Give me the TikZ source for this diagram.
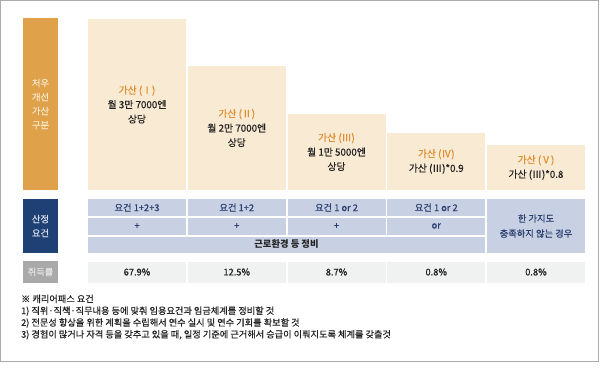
\documentclass[tikz,border=0pt]{standalone}
\usepackage{fontspec}
\setmainfont{Noto Sans CJK KR}[UprightFeatures={FakeBold=0.5}]
\definecolor{careerFrame}{HTML}{ABABAB}
\definecolor{careerOrange}{HTML}{DFA24A}
\definecolor{careerOrangeText}{HTML}{DE8E2E}
\definecolor{careerCream}{HTML}{F9EAD3}
\definecolor{careerLabelCream}{HTML}{F8E8CC}
\definecolor{careerNavy}{HTML}{1F4075}
\definecolor{careerNavyText}{HTML}{2B3F6E}
\definecolor{careerBlueCell}{HTML}{C8D0E4}
\definecolor{careerBlueLabel}{HTML}{D6DDEB}
\definecolor{careerGrey}{HTML}{A9A9A9}
\definecolor{careerGreyLabel}{HTML}{E2E2E2}
\definecolor{careerGreyCell}{HTML}{F0F1F1}
\definecolor{careerText}{HTML}{222222}
\usetikzlibrary{positioning}

\begin{document}
\begin{tikzpicture}[x=1pt, y=-1pt, font=\fontsize{9.8}{14.5}\selectfont, text=careerText]
		\useasboundingbox (0,0) rectangle (600,368);
		\draw[careerFrame, line width=1.2pt] (0.6,0.6) rectangle (598.6,361.6);
		
		% 구분 라벨
		\fill[careerOrange] (23,18) rectangle (58,190);
		\node[text=careerLabelCream, align=center, font=\fontsize{9.3}{14}\selectfont] (labelGasan) at (40.5,104) {처우\\개선\\가산\\구분};
		
		% 가산 막대
		\foreach \i/\yt/\num/\body in {1/19/Ⅰ/{월 3만 7000엔\\상당}, 2/66/Ⅱ/{월 2만 7000엔\\상당}, 3/114/Ⅲ/{월 1만 5000엔\\상당}, 4/133/Ⅳ/{가산 (Ⅲ)*0.9}, 5/145/Ⅴ/{가산 (Ⅲ)*0.8}}{
			\fill[careerCream] ({88+(\i-1)*99.75},\yt) rectangle ++(98,190-\yt);
			\node[align=center] (bar\i) at ({137+(\i-1)*99.75},{(\yt+190)/2}) {\textcolor{careerOrangeText}{가산 (\num)}\\\body};
		}
		
		% 산정 요건
		\fill[careerNavy] (23,199) rectangle (58,253);
		\node[text=careerBlueLabel, align=center, font=\fontsize{9.3}{14}\selectfont] (labelYogeon) at (40.5,226) {산정\\요건};
		\foreach \i/\top/\mid in {1/{요건 1+2+3}/+, 2/{요건 1+2}/+, 3/{요건 1 or 2}/+, 4/{요건 1 or 2}/or}{
			\fill[careerBlueCell] ({88+(\i-1)*99.75},199) rectangle ++(98,17);
			\fill[careerBlueCell] ({88+(\i-1)*99.75},218) rectangle ++(98,16.5);
			\node[text=careerNavyText, font=\fontsize{9.3}{11}\selectfont] (req\i) at ({137+(\i-1)*99.75},207.5) {\top};
			\node[text=careerNavyText, font=\fontsize{9.3}{11}\selectfont] (plus\i) at ({137+(\i-1)*99.75},226) {\mid};
		}
		\fill[careerBlueCell] (88,236.5) rectangle (485,252.5);
		\node[font=\fontsize{9.3}{11}\selectfont\bfseries] (envReq) at (286.5,244.5) {근로환경 등 정비};
		\fill[careerBlueCell] (487,199) rectangle (585,252.5);
		\node[text=careerNavyText, align=center, font=\fontsize{9.3}{15}\selectfont] (noReq) at (536,226) {한 가지도\\충족하지 않는 경우};
		
		% 취득률
		\fill[careerGrey] (23,261) rectangle (58,283);
		\node[text=careerGreyLabel, font=\fontsize{9.3}{11}\selectfont] (labelRate) at (40.5,272) {취득률};
		\foreach \i/\rate in {1/67.9, 2/12.5, 3/8.7, 4/0.8, 5/0.8}{
			\fill[careerGreyCell] ({88+(\i-1)*99.75},262) rectangle ++(98,20.5);
			\node[font=\fontsize{9.3}{11}\selectfont] (rate\i) at ({137+(\i-1)*99.75},272) {\rate\%};
		}
		
		% 캐리어패스 요건
		\node[anchor=north west, align=left, inner sep=0pt, font=\fontsize{9.2}{11.8}\selectfont] (notes) at (21,294.5) {※ 캐리어패스 요건\\1) 직위·직책·직무내용 등에 맞춰 임용요건과 임금체계를 정비할 것\\2) 전문성 향상을 위한 계획을 수립해서 연수 실시 및 연수 기회를 확보할 것\\3) 경험이 많거나 자격 등을 갖추고 있을 때, 일정 기준에 근거해서 승급이 이뤄지도록 체계를 갖출것};
		
	\end{tikzpicture}
\end{document}
